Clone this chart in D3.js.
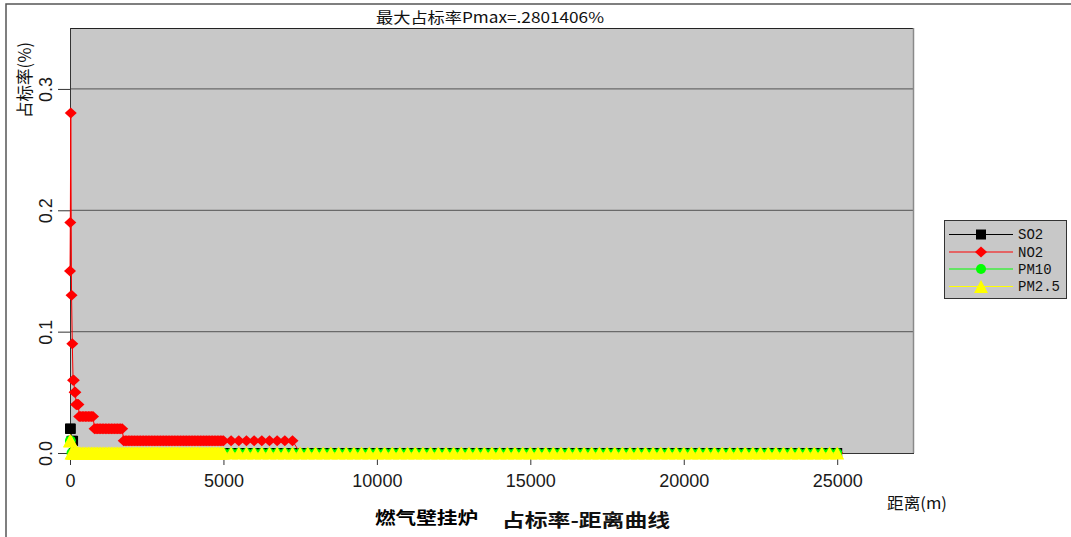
<!DOCTYPE html>
<html>
<head>
<meta charset="utf-8">
<script src="https://cdn.jsdelivr.net/npm/d3@7"></script>
<style>
  body { margin: 0; background: #fff; }
  svg { display: block; }
</style>
</head>
<body>
<svg id="chart" width="1071" height="537"></svg>
<script>
// ---- data -------------------------------------------------------------
const seriesNames  = ["SO2", "NO2", "PM10", "PM2.5"];
const seriesColors = ["#000000", "#ff0000", "#00ff00", "#ffff00"];
const seriesShapes = ["square", "diamond", "circle", "triangle"];

// receptor distances (m): fine spacing near the source, coarser further out
const nearDistances = [1, 10, 25, 50, 75, 100, 125, 150, 175, 200, 225, 250, 275, 300];
const midDistances  = d3.range(350, 5001, 50);
const farDistances  = d3.range(5250, 25001, 250);

// share of standard (%) per pollutant, as [from distance (m), value];
// each value holds until the next listed distance
const so2Steps  = [[1, 0.02], [50, 0.01], [125, 0]];
const no2Steps  = [[1, 0.15], [10, 0.19], [25, 0.2801406], [50, 0.13], [75, 0.09],
                   [100, 0.06], [150, 0.05], [200, 0.04], [300, 0.03],
                   [800, 0.02], [1750, 0.01], [7500, 0]];
const pm10Steps = [[1, 0.01], [50, 0]];
const pm25Steps = [[1, 0.01], [50, 0]];

const xTicks = [0, 5000, 10000, 15000, 20000, 25000];
const yTicks = [0, 0.1, 0.2, 0.3];

const titleText   = "最大占标率Pmax=.2801406%";
const yTitleText  = "占标率(%)";
const xTitleText  = "距离(m)";
const sourceText  = "燃气壁挂炉";
const curveText   = "占标率-距离曲线";

// ---- build series -------------------------------------------------------
const distances = nearDistances.concat(midDistances, farDistances);
function expand(steps) {
  return distances.map(d => {
    let v = steps[0][1];
    for (const [from, val] of steps) if (d >= from) v = val;
    return { d, v };
  });
}
const seriesData = [so2Steps, no2Steps, pm10Steps, pm25Steps].map(expand);

// ---- layout -------------------------------------------------------------
const svg = d3.select("#chart");
const plot = { left: 70, right: 913, top: 28, bottom: 453 };

const x = d3.scaleLinear().domain([0, 27470]).range([plot.left, plot.right]);
const y = d3.scaleLinear().domain([0, 0.3502]).range([plot.bottom, plot.top]);

const cjk  = "'Noto Sans CJK SC', 'Noto Sans', sans-serif";
const sans = "'Liberation Sans', Arial, sans-serif";
const mono = "'Liberation Mono', 'DejaVu Sans Mono', monospace";

// outer frame
svg.append("rect").attr("x", 6).attr("y", 4).attr("width", 1100).attr("height", 600)
  .attr("fill", "#fff").attr("stroke", "#555").attr("stroke-width", 1.5);

// plot background
svg.append("rect")
  .attr("x", plot.left).attr("y", plot.top)
  .attr("width", plot.right - plot.left).attr("height", plot.bottom - plot.top)
  .attr("fill", "#c8c8c8");

// horizontal grid
svg.append("g").selectAll("line").data(yTicks.filter(t => t > 0)).join("line")
  .attr("x1", plot.left).attr("x2", plot.right)
  .attr("y1", d => y(d)).attr("y2", d => y(d))
  .attr("stroke", "#6a6a6a").attr("stroke-width", 1.2);

// frame edges
svg.append("line").attr("x1", plot.left).attr("x2", plot.right + 1)
  .attr("y1", plot.top + 0.5).attr("y2", plot.top + 0.5).attr("stroke", "#222");
svg.append("line").attr("x1", plot.right + 0.5).attr("x2", plot.right + 0.5)
  .attr("y1", plot.top).attr("y2", plot.bottom).attr("stroke", "#8a8a8a").attr("stroke-width", 1.5);
svg.append("line").attr("x1", plot.left).attr("x2", plot.right + 1)
  .attr("y1", plot.bottom + 0.5).attr("y2", plot.bottom + 0.5).attr("stroke", "#333");

// y axis
const yAxis = svg.append("g").attr("transform", `translate(${plot.left},0)`)
  .call(d3.axisLeft(y).tickValues(yTicks).tickFormat(d3.format(".1f")).tickSize(12).tickSizeOuter(0));
yAxis.select(".domain").attr("stroke", "#333").attr("d", `M0.5,${plot.top}V${plot.bottom}`);
yAxis.selectAll(".tick line").attr("stroke", "#333");
yAxis.selectAll(".tick text")
  .attr("transform", "rotate(-90)")
  .attr("x", 0).attr("y", -18).attr("dy", 0)
  .attr("text-anchor", "middle")
  .style("font-family", sans).style("font-size", "18px").attr("fill", "#1a1a1a");

// x axis
const xAxis = svg.append("g").attr("transform", `translate(0,${plot.bottom})`)
  .call(d3.axisBottom(x).tickValues(xTicks).tickFormat(d3.format("d")).tickSize(12).tickSizeOuter(0));
xAxis.select(".domain").remove();
xAxis.selectAll(".tick line").attr("stroke", "#333");
xAxis.selectAll(".tick text")
  .attr("y", 34).attr("dy", 0)
  .style("font-family", sans).style("font-size", "18px").attr("fill", "#1a1a1a");

// marker shapes
function markerPath(shape) {
  switch (shape) {
    case "square":   return "M-5,-5H5V5H-5Z";
    case "diamond":  return "M0,-5.5L6,0L0,5.5L-6,0Z";
    case "circle":   return "M-5,0A5,5 0 1,0 5,0A5,5 0 1,0 -5,0Z";
    case "triangle": return "M0,-6.5L7,6.5L-7,6.5Z";
  }
}

// series: line then markers, later series on top
const line = d3.line().x(p => x(p.d)).y(p => y(p.v));
seriesData.forEach((data, i) => {
  const g = svg.append("g").attr("class", "series");
  g.append("path").attr("d", line(data)).attr("fill", "none")
    .attr("stroke", seriesColors[i]).attr("stroke-width", 1);
  g.selectAll("path.pt").data(data).join("path").attr("class", "pt")
    .attr("d", markerPath(seriesShapes[i]))
    .attr("transform", p => `translate(${x(p.d)},${y(p.v)})`)
    .attr("fill", seriesColors[i]);
});

// title
svg.append("text").attr("x", 376).attr("y", 23)
  .attr("textLength", 228).attr("lengthAdjust", "spacingAndGlyphs")
  .style("font-family", cjk).style("font-size", "15px").attr("fill", "#111")
  .text(titleText);

// y title
svg.append("text").attr("transform", "translate(31,118) rotate(-90)")
  .attr("textLength", 76).attr("lengthAdjust", "spacingAndGlyphs")
  .style("font-family", cjk).style("font-size", "17px").attr("fill", "#111")
  .text(yTitleText);

// x title
svg.append("text").attr("x", 887).attr("y", 509)
  .attr("textLength", 60).attr("lengthAdjust", "spacingAndGlyphs")
  .style("font-family", cjk).style("font-size", "16px").attr("fill", "#111")
  .text(xTitleText);

// bottom captions
svg.append("text").attr("x", 375).attr("y", 524)
  .attr("textLength", 103).attr("lengthAdjust", "spacingAndGlyphs")
  .style("font-family", cjk).style("font-size", "17px").style("font-weight", "bold").attr("fill", "#000")
  .text(sourceText);
svg.append("text").attr("x", 502).attr("y", 527)
  .attr("textLength", 168).attr("lengthAdjust", "spacingAndGlyphs")
  .style("font-family", cjk).style("font-size", "18px").style("font-weight", "bold").attr("fill", "#111")
  .text(curveText);

// legend
const legend = svg.append("g");
legend.append("rect").attr("x", 944.5).attr("y", 220.5).attr("width", 122).attr("height", 78)
  .attr("fill", "#c8c8c8").attr("stroke", "#333");
const rowY = [234, 251.5, 268.5, 286];
seriesNames.forEach((name, i) => {
  const row = legend.append("g").attr("transform", `translate(0,${rowY[i]})`);
  row.append("line").attr("x1", 949).attr("x2", 1013).attr("y1", 0.5).attr("y2", 0.5)
    .attr("stroke", seriesColors[i]);
  row.append("path").attr("d", markerPath(seriesShapes[i]))
    .attr("transform", "translate(981,0.5)").attr("fill", seriesColors[i]);
  row.append("text").attr("x", 1018).attr("y", 5)
    .style("font-family", mono).style("font-size", "14px").attr("fill", "#111")
    .text(name);
});
</script>
</body>
</html>
